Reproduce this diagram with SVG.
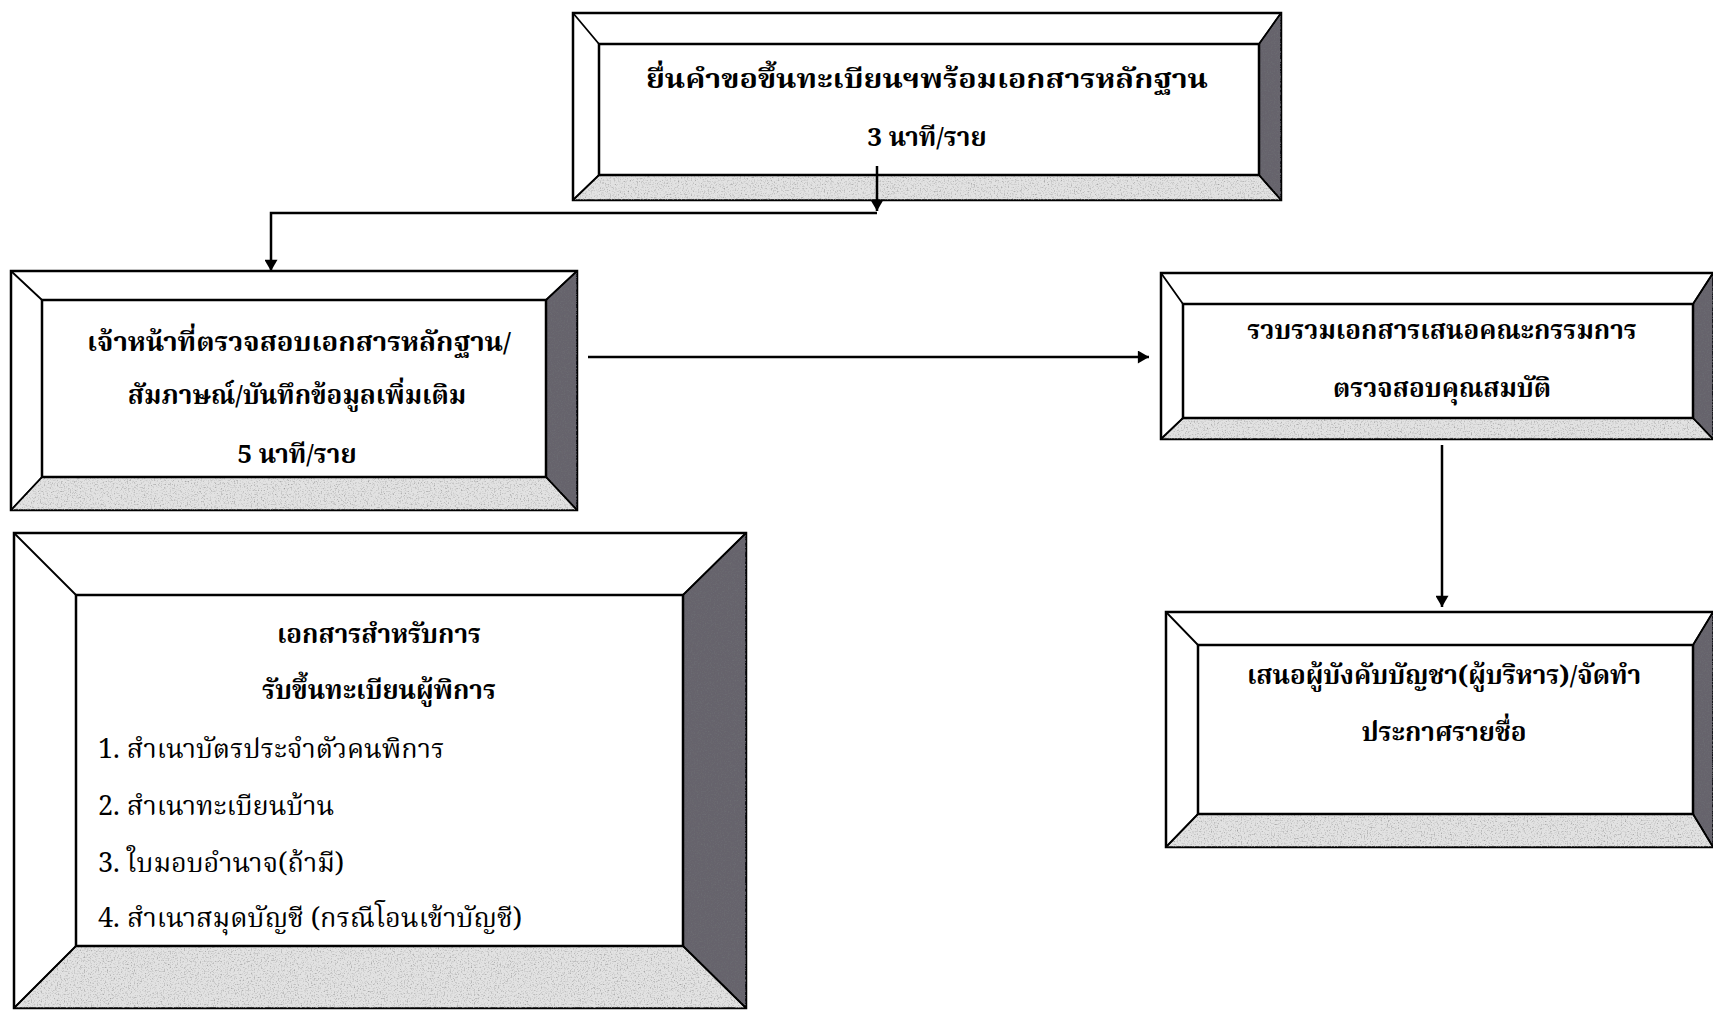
<svg xmlns="http://www.w3.org/2000/svg" width="1713" height="1010" viewBox="0 0 1713 1010">
<style>
.o{fill:#fff;stroke:#000;stroke-width:2.5}
.r{fill:#66646c;stroke:#000;stroke-width:1.5;filter:url(#grainD)}
.b{fill:#e2e2e2;stroke:#000;stroke-width:1.5;filter:url(#grainL)}
.i{fill:#fff;stroke:#000;stroke-width:2.5}
.d{stroke:#000;stroke-width:1.8;fill:none}
.c{stroke:#000;stroke-width:2.5;fill:none}
text{font-family:"Noto Serif Thai","Noto Sans Thai","Tlwg Typo","Loma","Garuda","DejaVu Sans",serif;fill:#000}
.t{font-weight:bold;font-size:26px;text-anchor:middle}
.l{font-size:27px}
</style>
<defs>
<filter id="grainL" x="0" y="0" width="100%" height="100%">
<feTurbulence type="fractalNoise" baseFrequency="0.7" numOctaves="2" seed="4" result="n"/>
<feColorMatrix in="n" type="matrix" values="0 0 0 0 0.35  0 0 0 0 0.35  0 0 0 0 0.35  2.6 0 0 0 -1.3" result="dots"/>
<feComposite in="dots" in2="SourceGraphic" operator="in" result="d2"/>
<feMerge><feMergeNode in="SourceGraphic"/><feMergeNode in="d2"/></feMerge>
</filter>
<filter id="grainD" x="0" y="0" width="100%" height="100%">
<feTurbulence type="fractalNoise" baseFrequency="0.7" numOctaves="2" seed="9" result="n"/>
<feColorMatrix in="n" type="matrix" values="0 0 0 0 0.15  0 0 0 0 0.15  0 0 0 0 0.17  2.6 0 0 0 -1.2" result="dots"/>
<feComposite in="dots" in2="SourceGraphic" operator="in" result="d2"/>
<feMerge><feMergeNode in="SourceGraphic"/><feMergeNode in="d2"/></feMerge>
</filter>
<marker id="ah" viewBox="0 0 12 14" refX="12" refY="7" markerWidth="15" markerHeight="13" markerUnits="userSpaceOnUse" orient="auto">
<path d="M0,0 L12,7 L0,14 z" fill="#000"/>
</marker>
</defs>
<rect width="1713" height="1010" fill="#fff"/>

<g id="n1">
<rect class="o" x="573" y="13" width="708" height="187"/>
<polygon class="r" points="1281,13 1281,200 1259,175 1259,44"/>
<polygon class="b" points="573,200 1281,200 1259,175 599,175"/>
<rect class="i" x="599" y="44" width="660" height="131"/>
<path class="d" d="M573,13 L599,44 M1281,13 L1259,44 M573,200 L599,175 M1281,200 L1259,175"/>
<text class="t" x="927" y="88" font-size="34" textLength="562" lengthAdjust="spacingAndGlyphs">ยื่นคำขอขึ้นทะเบียนฯพร้อมเอกสารหลักฐาน</text>
<text class="t" x="927" y="146" font-size="23">3 นาที/ราย</text>
</g>

<g id="n2">
<rect class="o" x="11" y="271" width="566" height="239"/>
<polygon class="r" points="577,271 577,510 546,477 546,300"/>
<polygon class="b" points="11,510 577,510 546,477 42,477"/>
<rect class="i" x="42" y="300" width="504" height="177"/>
<path class="d" d="M11,271 L42,300 M577,271 L546,300 M11,510 L42,477 M577,510 L546,477"/>
<text class="t" x="299" y="351" font-size="28" textLength="424" lengthAdjust="spacingAndGlyphs">เจ้าหน้าที่ตรวจสอบเอกสารหลักฐาน/</text>
<text class="t" x="297" y="404">สัมภาษณ์/บันทึกข้อมูลเพิ่มเติม</text>
<text class="t" x="297" y="463">5  นาที/ราย</text>
</g>

<g id="n3">
<rect class="o" x="1161" y="273" width="570" height="166"/>
<polygon class="r" points="1713,273 1713,439 1693,418 1693,304"/>
<polygon class="b" points="1161,439 1713,439 1693,418 1183,418"/>
<rect class="i" x="1183" y="304" width="510" height="114"/>
<path class="d" d="M1161,273 L1183,304 M1161,439 L1183,418 M1713,273 L1693,304 M1713,439 L1693,418"/>
<text class="t" x="1442" y="339">รวบรวมเอกสารเสนอคณะกรรมการ</text>
<text class="t" x="1442" y="397">ตรวจสอบคุณสมบัติ</text>
</g>

<g id="n4">
<rect class="o" x="1166" y="612" width="570" height="235"/>
<polygon class="r" points="1713,612 1713,847 1693,814 1693,645"/>
<polygon class="b" points="1166,847 1713,847 1693,814 1198,814"/>
<rect class="i" x="1198" y="645" width="495" height="169"/>
<path class="d" d="M1166,612 L1198,645 M1166,847 L1198,814 M1713,612 L1693,645 M1713,847 L1693,814"/>
<text class="t" x="1444" y="684">เสนอผู้บังคับบัญชา(ผู้บริหาร)/จัดทำ</text>
<text class="t" x="1444" y="741">ประกาศรายชื่อ</text>
</g>

<g id="n5">
<rect class="o" x="14" y="533" width="732" height="475"/>
<polygon class="r" points="746,533 746,1008 683,946 683,595"/>
<polygon class="b" points="14,1008 746,1008 683,946 76,946"/>
<rect class="i" x="76" y="595" width="607" height="351"/>
<path class="d" d="M14,533 L76,595 M746,533 L683,595 M14,1008 L76,946 M746,1008 L683,946"/>
<text class="t" x="379" y="643">เอกสารสำหรับการ</text>
<text class="t" x="379" y="699">รับขึ้นทะเบียนผู้พิการ</text>
<text class="l" x="98" y="758">1.  สำเนาบัตรประจำตัวคนพิการ</text>
<text class="l" x="98" y="815">2.  สำเนาทะเบียนบ้าน</text>
<text class="l" x="98" y="872">3.  ใบมอบอำนาจ(ถ้ามี)</text>
<text class="l" x="98" y="927" textLength="424" lengthAdjust="spacingAndGlyphs">4. สำเนาสมุดบัญชี (กรณีโอนเข้าบัญชี)</text>
</g>

<g id="connectors">
<path class="c" d="M877,166 L877,211" marker-end="url(#ah)"/>
<path class="c" d="M877,213 L271,213 L271,271" marker-end="url(#ah)"/>
<path class="c" d="M588,357 L1149,357" marker-end="url(#ah)"/>
<path class="c" d="M1442,445 L1442,607" marker-end="url(#ah)"/>
</g>
</svg>
